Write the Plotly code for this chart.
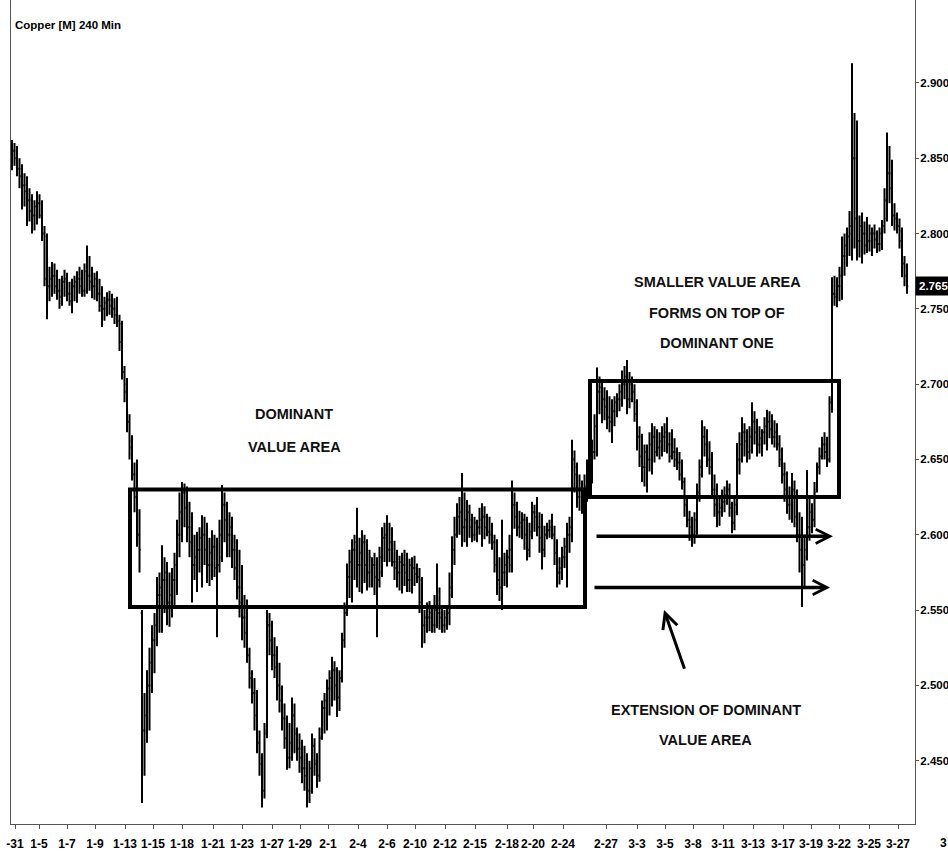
import plotly.graph_objects as go

# ---- price data (240-min bars) ----
# bars on whole positions
opens = [
    2.846, 2.855, 2.843, 2.832, 2.822, 2.812, 2.820, 2.798, 2.765, 2.772,
    2.762, 2.768, 2.760, 2.765, 2.770, 2.762, 2.772, 2.765, 2.760, 2.750,
    2.756, 2.750, 2.740, 2.700, 2.662, 2.640, 2.548, 2.470, 2.500, 2.530,
    2.560, 2.570, 2.555, 2.570, 2.600, 2.628, 2.605, 2.580, 2.590, 2.600,
    2.580, 2.592, 2.585, 2.620, 2.600, 2.590, 2.565, 2.545, 2.508, 2.495,
    2.452, 2.470, 2.540, 2.520, 2.498, 2.478, 2.452, 2.470, 2.458, 2.445,
    2.430, 2.450, 2.466, 2.485, 2.498, 2.510, 2.505, 2.548, 2.572, 2.590,
    2.580, 2.595, 2.575, 2.580, 2.575, 2.598, 2.590, 2.582, 2.575, 2.580,
    2.570, 2.578, 2.570, 2.540, 2.545, 2.540, 2.548, 2.540, 2.560, 2.600,
    2.612, 2.605, 2.610, 2.600, 2.605, 2.612, 2.602, 2.595, 2.565, 2.575,
    2.580, 2.620, 2.605, 2.610, 2.600, 2.615, 2.605, 2.600, 2.603, 2.595,
    2.575, 2.585, 2.600, 2.645, 2.625, 2.625, 2.645, 2.655, 2.695, 2.690,
    2.678, 2.682, 2.690, 2.700, 2.690, 2.688, 2.665, 2.645, 2.650, 2.665,
    2.658, 2.665, 2.660, 2.655, 2.648, 2.623, 2.610, 2.602, 2.640, 2.665,
    2.650, 2.630, 2.615, 2.622, 2.620, 2.615, 2.650, 2.668, 2.656, 2.675,
    2.660, 2.668, 2.675, 2.665, 2.656, 2.640, 2.620, 2.628, 2.600, 2.585,
    2.605, 2.630, 2.652, 2.660, 2.690, 2.760, 2.765, 2.785, 2.800, 2.850,
    2.795, 2.800, 2.795, 2.800, 2.793, 2.810, 2.840, 2.812, 2.802, 2.778,
]
highs = [
    2.862, 2.858, 2.846, 2.838, 2.826, 2.828, 2.822, 2.800, 2.781, 2.776,
    2.772, 2.774, 2.770, 2.775, 2.776, 2.792, 2.778, 2.775, 2.765, 2.761,
    2.760, 2.758, 2.742, 2.704, 2.666, 2.650, 2.550, 2.510, 2.540, 2.572,
    2.593, 2.582, 2.578, 2.610, 2.635, 2.632, 2.615, 2.602, 2.613, 2.608,
    2.603, 2.598, 2.633, 2.622, 2.612, 2.597, 2.580, 2.557, 2.510, 2.497,
    2.455, 2.550, 2.543, 2.526, 2.500, 2.480, 2.492, 2.472, 2.464, 2.455,
    2.468, 2.455, 2.490, 2.504, 2.519, 2.512, 2.535, 2.581, 2.597, 2.618,
    2.603, 2.597, 2.585, 2.585, 2.605, 2.613, 2.605, 2.590, 2.588, 2.588,
    2.585, 2.581, 2.572, 2.555, 2.552, 2.581, 2.552, 2.552, 2.599, 2.621,
    2.641, 2.623, 2.614, 2.610, 2.621, 2.614, 2.608, 2.597, 2.610, 2.590,
    2.636, 2.622, 2.615, 2.612, 2.622, 2.625, 2.614, 2.608, 2.614, 2.597,
    2.592, 2.608, 2.663, 2.648, 2.636, 2.650, 2.663, 2.711, 2.701, 2.696,
    2.690, 2.694, 2.709, 2.716, 2.705, 2.690, 2.667, 2.660, 2.674, 2.670,
    2.672, 2.678, 2.670, 2.658, 2.650, 2.625, 2.612, 2.634, 2.676, 2.670,
    2.655, 2.634, 2.630, 2.636, 2.622, 2.661, 2.678, 2.670, 2.688, 2.677,
    2.670, 2.683, 2.680, 2.674, 2.658, 2.642, 2.641, 2.630, 2.612, 2.643,
    2.621, 2.648, 2.665, 2.665, 2.771, 2.771, 2.798, 2.804, 2.913, 2.875,
    2.814, 2.811, 2.804, 2.802, 2.809, 2.867, 2.849, 2.814, 2.804, 2.780,
]
lows = [
    2.842, 2.838, 2.816, 2.805, 2.800, 2.806, 2.795, 2.743, 2.758, 2.756,
    2.752, 2.755, 2.747, 2.754, 2.758, 2.760, 2.757, 2.755, 2.738, 2.745,
    2.744, 2.738, 2.703, 2.668, 2.636, 2.592, 2.422, 2.462, 2.495, 2.526,
    2.535, 2.540, 2.545, 2.560, 2.595, 2.595, 2.555, 2.562, 2.565, 2.568,
    2.570, 2.532, 2.582, 2.585, 2.578, 2.557, 2.530, 2.515, 2.488, 2.455,
    2.419, 2.465, 2.510, 2.490, 2.470, 2.444, 2.450, 2.450, 2.435, 2.419,
    2.428, 2.432, 2.464, 2.470, 2.486, 2.479, 2.502, 2.546, 2.555, 2.565,
    2.561, 2.563, 2.565, 2.532, 2.572, 2.579, 2.579, 2.565, 2.561, 2.562,
    2.561, 2.568, 2.525, 2.535, 2.535, 2.538, 2.535, 2.537, 2.558, 2.598,
    2.592, 2.592, 2.595, 2.595, 2.592, 2.599, 2.590, 2.560, 2.550, 2.565,
    2.575, 2.599, 2.597, 2.583, 2.597, 2.599, 2.577, 2.597, 2.597, 2.565,
    2.570, 2.565, 2.595, 2.618, 2.614, 2.622, 2.634, 2.652, 2.674, 2.670,
    2.661, 2.678, 2.685, 2.680, 2.688, 2.656, 2.635, 2.628, 2.640, 2.652,
    2.652, 2.654, 2.650, 2.643, 2.630, 2.605, 2.592, 2.600, 2.638, 2.645,
    2.625, 2.605, 2.612, 2.620, 2.601, 2.613, 2.648, 2.648, 2.654, 2.652,
    2.652, 2.656, 2.660, 2.656, 2.634, 2.614, 2.608, 2.595, 2.552, 2.583,
    2.601, 2.628, 2.650, 2.645, 2.681, 2.751, 2.756, 2.778, 2.782, 2.782,
    2.780, 2.787, 2.785, 2.787, 2.789, 2.808, 2.805, 2.800, 2.771, 2.760,
]
closes = [
    2.855, 2.843, 2.832, 2.822, 2.812, 2.820, 2.800, 2.765, 2.772, 2.762,
    2.768, 2.760, 2.765, 2.770, 2.762, 2.772, 2.765, 2.760, 2.750, 2.756,
    2.750, 2.742, 2.708, 2.675, 2.640, 2.600, 2.470, 2.500, 2.530, 2.560,
    2.570, 2.555, 2.570, 2.600, 2.628, 2.605, 2.580, 2.590, 2.600, 2.580,
    2.592, 2.580, 2.620, 2.600, 2.590, 2.565, 2.545, 2.520, 2.495, 2.462,
    2.430, 2.540, 2.520, 2.500, 2.478, 2.452, 2.480, 2.458, 2.445, 2.430,
    2.460, 2.440, 2.485, 2.498, 2.510, 2.492, 2.530, 2.572, 2.590, 2.580,
    2.595, 2.575, 2.580, 2.570, 2.598, 2.590, 2.582, 2.575, 2.580, 2.570,
    2.578, 2.572, 2.540, 2.545, 2.540, 2.548, 2.540, 2.548, 2.590, 2.612,
    2.605, 2.615, 2.600, 2.605, 2.612, 2.602, 2.595, 2.570, 2.575, 2.585,
    2.620, 2.605, 2.610, 2.590, 2.615, 2.605, 2.590, 2.603, 2.600, 2.575,
    2.585, 2.600, 2.650, 2.625, 2.620, 2.645, 2.655, 2.695, 2.690, 2.678,
    2.682, 2.690, 2.700, 2.690, 2.695, 2.665, 2.645, 2.650, 2.665, 2.658,
    2.665, 2.660, 2.655, 2.648, 2.635, 2.610, 2.600, 2.628, 2.665, 2.650,
    2.630, 2.615, 2.622, 2.630, 2.608, 2.650, 2.668, 2.655, 2.675, 2.660,
    2.668, 2.675, 2.665, 2.660, 2.640, 2.620, 2.630, 2.600, 2.580, 2.605,
    2.610, 2.645, 2.660, 2.650, 2.760, 2.765, 2.785, 2.798, 2.850, 2.795,
    2.800, 2.795, 2.800, 2.793, 2.805, 2.840, 2.812, 2.805, 2.780, 2.765,
]
# bars that sit half-way between the ones above
mid_opens = [
    2.855, 2.843, 2.832, 2.822, 2.812, 2.820, 2.800, 2.765, 2.772, 2.762,
    2.768, 2.760, 2.765, 2.770, 2.762, 2.772, 2.765, 2.760, 2.750, 2.756,
    2.750, 2.742, 2.708, 2.675, 2.640, 2.600, 2.470, 2.500, 2.530, 2.560,
    2.570, 2.555, 2.570, 2.600, 2.628, 2.605, 2.580, 2.590, 2.600, 2.580,
    2.592, 2.580, 2.620, 2.600, 2.590, 2.565, 2.545, 2.520, 2.495, 2.462,
    2.430, 2.540, 2.520, 2.500, 2.478, 2.452, 2.480, 2.458, 2.445, 2.430,
    2.460, 2.440, 2.485, 2.498, 2.510, 2.492, 2.530, 2.572, 2.590, 2.580,
    2.595, 2.575, 2.580, 2.570, 2.598, 2.590, 2.582, 2.575, 2.580, 2.570,
    2.578, 2.572, 2.540, 2.545, 2.540, 2.548, 2.540, 2.548, 2.590, 2.612,
    2.605, 2.615, 2.600, 2.605, 2.612, 2.602, 2.595, 2.570, 2.575, 2.585,
    2.620, 2.605, 2.610, 2.590, 2.615, 2.605, 2.590, 2.603, 2.600, 2.575,
    2.585, 2.600, 2.650, 2.625, 2.620, 2.645, 2.655, 2.695, 2.690, 2.678,
    2.682, 2.690, 2.700, 2.690, 2.695, 2.665, 2.645, 2.650, 2.665, 2.658,
    2.665, 2.660, 2.655, 2.648, 2.635, 2.610, 2.600, 2.628, 2.665, 2.650,
    2.630, 2.615, 2.622, 2.630, 2.608, 2.650, 2.668, 2.655, 2.675, 2.660,
    2.668, 2.675, 2.665, 2.660, 2.640, 2.620, 2.630, 2.600, 2.580, 2.605,
    2.610, 2.645, 2.660, 2.650, 2.760, 2.765, 2.785, 2.798, 2.850, 2.795,
    2.800, 2.795, 2.800, 2.793, 2.805, 2.840, 2.812, 2.805, 2.780,
]
mid_highs = [
    2.860, 2.850, 2.840, 2.830, 2.822, 2.826, 2.805, 2.778, 2.780, 2.770,
    2.776, 2.768, 2.772, 2.778, 2.780, 2.785, 2.774, 2.770, 2.758, 2.762,
    2.757, 2.746, 2.712, 2.680, 2.648, 2.617, 2.495, 2.525, 2.548, 2.575,
    2.585, 2.575, 2.588, 2.628, 2.634, 2.622, 2.600, 2.605, 2.612, 2.598,
    2.600, 2.610, 2.628, 2.615, 2.600, 2.590, 2.560, 2.525, 2.505, 2.470,
    2.475, 2.548, 2.532, 2.515, 2.488, 2.475, 2.488, 2.468, 2.460, 2.450,
    2.465, 2.472, 2.495, 2.510, 2.516, 2.510, 2.555, 2.590, 2.600, 2.598,
    2.600, 2.590, 2.588, 2.592, 2.608, 2.608, 2.596, 2.586, 2.590, 2.584,
    2.586, 2.578, 2.550, 2.556, 2.560, 2.565, 2.550, 2.575, 2.612, 2.625,
    2.628, 2.620, 2.612, 2.618, 2.619, 2.612, 2.600, 2.585, 2.588, 2.600,
    2.628, 2.616, 2.614, 2.608, 2.620, 2.615, 2.606, 2.610, 2.606, 2.585,
    2.598, 2.612, 2.656, 2.640, 2.640, 2.655, 2.680, 2.705, 2.698, 2.692,
    2.692, 2.700, 2.712, 2.708, 2.700, 2.672, 2.660, 2.668, 2.672, 2.668,
    2.674, 2.668, 2.664, 2.655, 2.638, 2.616, 2.615, 2.650, 2.672, 2.662,
    2.640, 2.625, 2.632, 2.634, 2.625, 2.668, 2.674, 2.672, 2.682, 2.672,
    2.678, 2.682, 2.676, 2.666, 2.648, 2.632, 2.636, 2.615, 2.600, 2.625,
    2.635, 2.658, 2.668, 2.692, 2.772, 2.778, 2.800, 2.815, 2.880, 2.812,
    2.808, 2.806, 2.806, 2.804, 2.830, 2.858, 2.820, 2.810, 2.785,
]
mid_lows = [
    2.845, 2.830, 2.818, 2.808, 2.802, 2.810, 2.765, 2.755, 2.760, 2.750,
    2.758, 2.752, 2.755, 2.760, 2.758, 2.762, 2.756, 2.748, 2.742, 2.746,
    2.740, 2.722, 2.688, 2.650, 2.615, 2.575, 2.440, 2.470, 2.508, 2.535,
    2.548, 2.539, 2.552, 2.585, 2.605, 2.585, 2.570, 2.575, 2.580, 2.566,
    2.572, 2.575, 2.595, 2.585, 2.570, 2.545, 2.525, 2.498, 2.470, 2.440,
    2.425, 2.520, 2.505, 2.482, 2.458, 2.445, 2.455, 2.442, 2.430, 2.422,
    2.440, 2.436, 2.468, 2.480, 2.490, 2.483, 2.525, 2.558, 2.570, 2.562,
    2.568, 2.565, 2.560, 2.565, 2.582, 2.582, 2.570, 2.563, 2.566, 2.562,
    2.566, 2.548, 2.528, 2.536, 2.535, 2.537, 2.535, 2.540, 2.580, 2.600,
    2.595, 2.598, 2.596, 2.600, 2.597, 2.594, 2.575, 2.556, 2.566, 2.575,
    2.604, 2.598, 2.590, 2.585, 2.602, 2.588, 2.585, 2.598, 2.580, 2.567,
    2.578, 2.588, 2.628, 2.616, 2.615, 2.630, 2.650, 2.680, 2.676, 2.668,
    2.672, 2.682, 2.690, 2.684, 2.675, 2.645, 2.632, 2.642, 2.648, 2.650,
    2.655, 2.648, 2.645, 2.636, 2.612, 2.596, 2.594, 2.622, 2.652, 2.640,
    2.612, 2.606, 2.615, 2.612, 2.603, 2.640, 2.652, 2.650, 2.660, 2.654,
    2.660, 2.664, 2.658, 2.645, 2.622, 2.610, 2.605, 2.575, 2.565, 2.596,
    2.605, 2.640, 2.650, 2.648, 2.752, 2.755, 2.772, 2.785, 2.790, 2.784,
    2.786, 2.788, 2.790, 2.788, 2.800, 2.820, 2.802, 2.790, 2.765,
]
mid_closes = [
    2.850, 2.838, 2.828, 2.815, 2.818, 2.812, 2.770, 2.770, 2.765, 2.758,
    2.770, 2.755, 2.768, 2.765, 2.775, 2.768, 2.770, 2.752, 2.754, 2.752,
    2.746, 2.728, 2.695, 2.658, 2.625, 2.590, 2.480, 2.515, 2.540, 2.565,
    2.575, 2.560, 2.580, 2.615, 2.618, 2.595, 2.585, 2.598, 2.590, 2.588,
    2.578, 2.600, 2.610, 2.605, 2.578, 2.555, 2.535, 2.505, 2.480, 2.448,
    2.468, 2.530, 2.512, 2.490, 2.465, 2.462, 2.468, 2.452, 2.440, 2.445,
    2.448, 2.465, 2.490, 2.505, 2.500, 2.505, 2.548, 2.582, 2.595, 2.588,
    2.580, 2.585, 2.572, 2.585, 2.600, 2.595, 2.578, 2.582, 2.575, 2.580,
    2.574, 2.555, 2.545, 2.548, 2.550, 2.545, 2.545, 2.565, 2.600, 2.615,
    2.610, 2.605, 2.608, 2.610, 2.605, 2.600, 2.580, 2.565, 2.580, 2.590,
    2.612, 2.608, 2.600, 2.602, 2.612, 2.598, 2.600, 2.605, 2.588, 2.578,
    2.592, 2.605, 2.640, 2.630, 2.632, 2.648, 2.672, 2.698, 2.685, 2.675,
    2.688, 2.695, 2.705, 2.700, 2.680, 2.652, 2.655, 2.660, 2.655, 2.662,
    2.668, 2.652, 2.650, 2.640, 2.620, 2.605, 2.610, 2.645, 2.660, 2.645,
    2.620, 2.618, 2.626, 2.618, 2.620, 2.660, 2.662, 2.665, 2.668, 2.664,
    2.672, 2.670, 2.668, 2.650, 2.630, 2.625, 2.612, 2.590, 2.590, 2.615,
    2.628, 2.652, 2.655, 2.688, 2.758, 2.772, 2.792, 2.805, 2.810, 2.805,
    2.792, 2.800, 2.796, 2.800, 2.822, 2.830, 2.810, 2.795, 2.772,
]
bar_index = list(range(len(closes)))

tick_labels = ["-31", "1-5", "1-7", "1-9", "1-13", "1-15", "1-18", "1-21", "1-23",
               "1-27", "1-29", "2-1", "2-4", "2-6", "2-10", "2-12", "2-15", "2-18",
               "2-20", "2-24", "2-27", "3-3", "3-5", "3-8", "3-11", "3-13", "3-17",
               "3-19", "3-22", "3-25", "3-27"]
tick_bars = [0.6, 5.4, 11.0, 16.6, 22.6, 28.2, 34.0, 40.2, 46.0, 52.0, 57.6, 63.2,
             69.2, 75.0, 80.6, 86.6, 92.6, 99.0, 104.2, 110.2, 118.8, 125.0, 130.6,
             136.2, 142.2, 148.2, 154.2, 159.8, 165.4, 171.4, 177.2]
price_ticks = [2.45, 2.50, 2.55, 2.60, 2.65, 2.70, 2.75, 2.80, 2.85, 2.90]
last_price = 2.765

dominant_area = [2.552, 2.630]
smaller_area = [2.625, 2.702]
extension_levels = [2.599, 2.565]

FONT = "Liberation Sans, Arial, sans-serif"

# merge whole-position bars and half-way bars into one time-ordered series
xs, o_all, h_all, l_all, c_all = [], [], [], [], []
for i in bar_index:
    xs.append(i); o_all.append(opens[i]); h_all.append(highs[i])
    l_all.append(lows[i]); c_all.append(closes[i])
    if i < len(mid_closes):
        xs.append(i + 0.5); o_all.append(mid_opens[i]); h_all.append(mid_highs[i])
        l_all.append(mid_lows[i]); c_all.append(mid_closes[i])

fig = go.Figure()
fig.add_trace(go.Ohlc(
    x=xs, open=o_all, high=h_all, low=l_all, close=c_all,
    increasing=dict(line=dict(color="black", width=2)),
    decreasing=dict(line=dict(color="black", width=2)),
    tickwidth=0.5, hoverinfo="skip",
))

# value area boxes
fig.add_shape(type="rect", xref="x", yref="y", x0=23.6, x1=114.6,
              y0=dominant_area[0], y1=dominant_area[1],
              line=dict(color="black", width=4), layer="above")
fig.add_shape(type="rect", xref="x", yref="y", x0=115.6, x1=165.4,
              y0=smaller_area[0], y1=smaller_area[1],
              line=dict(color="black", width=4), layer="above")

# extension arrows
for lvl, x_tip, x_tail in zip(extension_levels, [164.2, 163.6], [116.6, 116.2]):
    fig.add_annotation(x=x_tip, y=lvl, ax=x_tail, ay=lvl, xref="x", yref="y",
                       axref="x", ayref="y", text="", showarrow=True,
                       arrowhead=5, arrowsize=0.8, arrowwidth=3.5,
                       arrowcolor="black", standoff=0, startstandoff=0)

# pointer arrow
fig.add_annotation(x=130.4, y=2.550, ax=134.6, ay=2.510, xref="x", yref="y",
                   axref="x", ayref="y", text="", showarrow=True, arrowhead=5,
                   arrowsize=1.0, arrowwidth=3, arrowcolor="black", standoff=0)

bold = dict(family=FONT, size=14.5, color="#111", weight="bold")
texts = [
    ("DOMINANT", 56.4, 2.680), ("VALUE AREA", 56.4, 2.658),
    ("SMALLER VALUE AREA", 141.0, 2.768), ("FORMS ON TOP OF", 141.0, 2.747),
    ("DOMINANT ONE", 141.0, 2.727),
    ("EXTENSION OF DOMINANT", 138.8, 2.484), ("VALUE AREA", 138.6, 2.464),
]
for t, x, y in texts:
    fig.add_annotation(x=x, y=y, xref="x", yref="y", text=t, showarrow=False,
                       font=bold, xanchor="center", yanchor="middle")

# title
fig.add_annotation(xref="paper", yref="paper", x=0.002, y=0.9697, xanchor="left",
                   yanchor="middle", text="Copper [M] 240 Min", showarrow=False,
                   font=dict(family=FONT, size=11.5, color="black", weight="bold"))

# last price tag
fig.add_annotation(xref="paper", yref="y", x=1.0, y=last_price, xanchor="left",
                   yanchor="middle", text=f"{last_price:.3f}", showarrow=False,
                   bgcolor="black", borderpad=3,
                   font=dict(family=FONT, size=11.5, color="white", weight="bold"))

# truncated label at far right of time axis
fig.add_annotation(xref="paper", yref="paper", x=1.031, y=-0.023, xanchor="center",
                   yanchor="middle", text="3", showarrow=False,
                   font=dict(family=FONT, size=12, color="black", weight="bold"))

fig.update_layout(
    width=948, height=864,
    margin=dict(l=11, r=33, t=0, b=40, autoexpand=False),
    paper_bgcolor="white", plot_bgcolor="white", showlegend=False,
    xaxis=dict(range=[-0.2, 180.6], tickmode="array", tickvals=tick_bars,
               ticktext=tick_labels, ticks="outside", ticklen=4, tickcolor="#555",
               showline=True, linecolor="#555", linewidth=1, showgrid=False,
               zeroline=False, rangeslider=dict(visible=False), tickangle=0,
               ticklabelstandoff=5, ticklabeloverflow="allow",
               tickfont=dict(family=FONT, size=12, color="black", weight="bold")),
    yaxis=dict(range=[2.408, 2.955], side="right", tickmode="array",
               tickvals=price_ticks, ticktext=[f"{v:.3f}" for v in price_ticks],
               ticks="outside", ticklen=3, tickcolor="#555", showline=True,
               mirror=True, linecolor="#555", linewidth=1, showgrid=False,
               zeroline=False, ticklabelstandoff=-1, ticklabeloverflow="allow",
               tickfont=dict(family=FONT, size=11.5, color="black", weight="bold")),
)

fig.write_html(
    "out.html",
    config={"displayModeBar": False},
    post_script="document.body.style.margin='0';document.body.style.overflow='hidden';",
)
